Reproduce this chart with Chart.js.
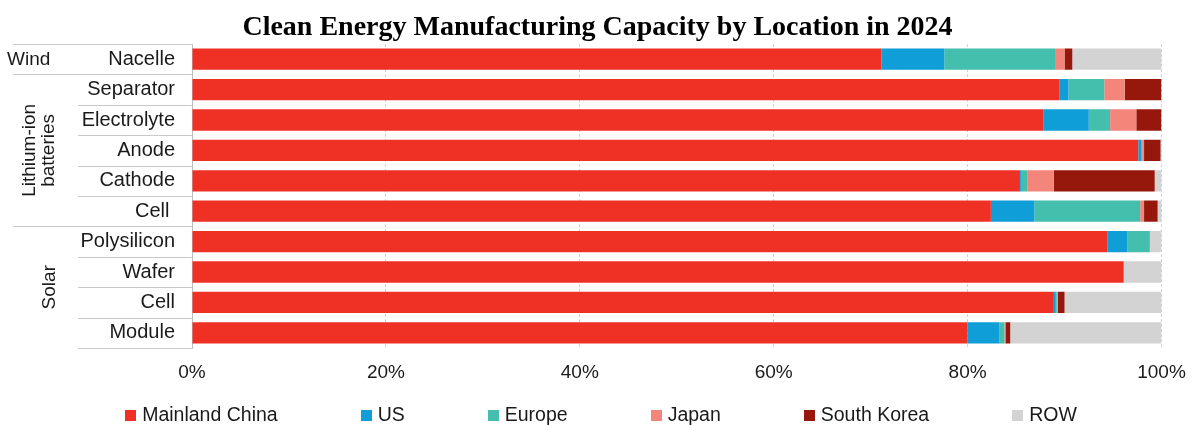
<!DOCTYPE html>
<html>
<head>
<meta charset="utf-8">
<title>Clean Energy Manufacturing Capacity by Location in 2024</title>
<script src="https://cdn.jsdelivr.net/npm/chart.js@4.4.1/dist/chart.umd.min.js"></script>
<style>
  html, body { margin: 0; padding: 0; background: #fff; }
  #wrap { width: 1195px; height: 425px; }
</style>
</head>
<body>
<div id="wrap"><canvas id="capacityChart" width="1195" height="425"></canvas></div>
<script>
// Categories, top to bottom (battery "Cell " keeps its trailing space as in the source)
const categories = ['Nacelle', 'Separator', 'Electrolyte', 'Anode', 'Cathode', 'Cell ', 'Polysilicon', 'Wafer', 'Cell', 'Module'];

// Share of capacity by location, %
const chinaShare  = [71.1, 89.5, 87.8, 97.6, 85.4, 82.4, 94.4, 96.1, 88.9, 80.0];
const usShare     = [6.5, 0.9, 4.7, 0.3, 0.1, 4.5, 2.1, 0, 0.2, 3.3];
const europeShare = [11.5, 3.7, 2.2, 0.1, 0.7, 10.9, 2.3, 0, 0.1, 0.5];
const japanShare  = [0.9, 2.1, 2.7, 0.2, 2.7, 0.4, 0, 0, 0.1, 0.1];
const koreaShare  = [0.8, 3.8, 2.6, 1.7, 10.4, 1.4, 0, 0, 0.7, 0.5];
const rowShare    = [9.2, 0, 0, 0.1, 0.7, 0.4, 1.2, 3.9, 10.0, 15.6];

// Groups on the left side: label lines and the category index range they cover
const groups = [
  { lines: ['Wind'], from: 0, to: 0, rotated: false },
  { lines: ['Lithium-ion', 'batteries'], from: 1, to: 5, rotated: true },
  { lines: ['Solar'], from: 6, to: 9, rotated: true }
];

const xTicks = [0, 20, 40, 60, 80, 100];

const chartConfig = {
  fontSans: "'Liberation Sans', Arial, sans-serif",
  fontSerif: "'Liberation Serif', 'Times New Roman', serif",
  textColor: '#1a1a1a',
  lineColor: '#c9c9c9',
  colors: {
    china: '#EE3124',
    us: '#109ED9',
    europe: '#45BFAD',
    japan: '#F4857A',
    korea: '#96180D',
    row: '#D3D3D3'
  }
};

function makeDataset(label, data, color) {
  return {
    label: label,
    data: data,
    backgroundColor: color,
    borderWidth: 0,
    barPercentage: 0.7,
    categoryPercentage: 1.0
  };
}

// Draws the group labels and separator lines in the left label column
const groupPlugin = {
  id: 'groupLabels',
  afterDraw(chart) {
    const ctx = chart.ctx;
    const y = chart.scales.y;
    const axisX = chart.chartArea.left;
    const half = (y.getPixelForValue(1) - y.getPixelForValue(0)) / 2;
    const edge = i => y.getPixelForValue(i) - half;

    ctx.save();
    ctx.strokeStyle = chartConfig.lineColor;
    ctx.lineWidth = 1;
    for (let i = 0; i <= categories.length; i++) {
      const isGroupEdge = groups.some(g => g.from === i) && i < categories.length;
      const startX = isGroupEdge ? 13 : 78;
      const py = Math.round(edge(i)) + 0.5;
      ctx.beginPath();
      ctx.moveTo(startX, py);
      ctx.lineTo(axisX, py);
      ctx.stroke();
    }

    ctx.fillStyle = chartConfig.textColor;
    ctx.font = '19px ' + chartConfig.fontSans;
    groups.forEach(g => {
      const midY = (edge(g.from) + edge(g.to + 1)) / 2;
      if (!g.rotated) {
        ctx.textAlign = 'left';
        ctx.textBaseline = 'middle';
        ctx.fillText(g.lines[0], 7, midY + 1);
        return;
      }
      const lineGap = 19;
      const centerX = g.lines.length > 1 ? 39 : 50;
      g.lines.forEach((text, k) => {
        const lx = centerX + (k - (g.lines.length - 1) / 2) * lineGap;
        ctx.save();
        ctx.translate(lx, midY);
        ctx.rotate(-Math.PI / 2);
        ctx.textAlign = 'center';
        ctx.textBaseline = 'middle';
        ctx.fillText(text, 0, 0);
        ctx.restore();
      });
    });
    ctx.restore();
  }
};

// Simple bottom legend with square markers and wide spacing
const legendPlugin = {
  id: 'squareLegend',
  afterDraw(chart) {
    const ctx = chart.ctx;
    const box = 11, gap = 6, spacing = 83, centerY = 415.5;
    ctx.save();
    ctx.font = '19.5px ' + chartConfig.fontSans;
    const items = chart.data.datasets.map(ds => ({
      text: ds.label,
      color: ds.backgroundColor,
      width: box + gap + ctx.measureText(ds.label).width
    }));
    const total = items.reduce((s, it) => s + it.width, 0) + spacing * (items.length - 1);
    let x = 601 - total / 2;
    ctx.textAlign = 'left';
    ctx.textBaseline = 'middle';
    items.forEach(it => {
      ctx.fillStyle = it.color;
      ctx.fillRect(Math.round(x), Math.round(centerY - box / 2), box, box);
      ctx.fillStyle = chartConfig.textColor;
      ctx.fillText(it.text, x + box + gap, centerY);
      x += it.width + spacing;
    });
    ctx.restore();
  }
};

function initCapacityChart() {
  const canvas = document.getElementById('capacityChart');
  if (!canvas) {
    console.warn('Chart canvas not found');
    return;
  }
  const c = chartConfig.colors;

  new Chart(canvas.getContext('2d'), {
    type: 'bar',
    data: {
      labels: categories,
      datasets: [
        makeDataset('Mainland China', chinaShare, c.china),
        makeDataset('US', usShare, c.us),
        makeDataset('Europe', europeShare, c.europe),
        makeDataset('Japan', japanShare, c.japan),
        makeDataset('South Korea', koreaShare, c.korea),
        makeDataset('ROW', rowShare, c.row)
      ]
    },
    options: {
      indexAxis: 'y',
      responsive: false,
      animation: false,
      layout: {
        padding: { left: 0, right: 0, top: 0, bottom: 37 }
      },
      plugins: {
        legend: { display: false },
        tooltip: { enabled: false },
        title: {
          display: true,
          text: 'Clean Energy Manufacturing Capacity by Location in 2024',
          color: '#000',
          font: { family: chartConfig.fontSerif, size: 28, weight: 'bold', lineHeight: 1.0 },
          padding: { top: 14, bottom: 2 }
        }
      },
      scales: {
        x: {
          stacked: true,
          min: 0,
          max: 100,
          afterFit: scale => {
            scale.height = 40;
            scale.paddingLeft = 0;
            scale.paddingRight = 33.5;
          },
          afterBuildTicks: scale => { scale.ticks = xTicks.map(v => ({ value: v })); },
          grid: {
            color: '#d4d4d4',
            drawTicks: false
          },
          border: { display: false, dash: [3, 2] },
          ticks: {
            color: chartConfig.textColor,
            padding: 13,
            font: { family: chartConfig.fontSans, size: 19 },
            callback: v => v + '%'
          }
        },
        y: {
          stacked: true,
          afterFit: scale => { scale.width = 192; },
          grid: { display: false, drawTicks: false },
          border: { display: true, color: '#bdbdbd', width: 1 },
          ticks: {
            color: chartConfig.textColor,
            padding: 17,
            font: { family: chartConfig.fontSans, size: 20 }
          }
        }
      }
    },
    plugins: [groupPlugin, legendPlugin]
  });
}

document.addEventListener('DOMContentLoaded', initCapacityChart);
</script>
</body>
</html>
